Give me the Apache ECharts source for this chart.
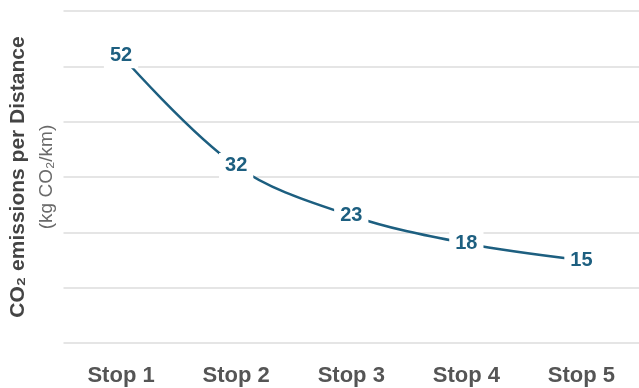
<!DOCTYPE html>
<html>
<head>
<meta charset="utf-8">
<script src="https://cdn.jsdelivr.net/npm/echarts@6/dist/echarts.min.js"></script>
<style>
  html, body { margin: 0; padding: 0; background: #fff; }
  #chart { width: 639px; height: 388px; }
</style>
</head>
<body>
<div id="chart"></div>
<script>
// data
var stops = ['Stop 1', 'Stop 2', 'Stop 3', 'Stop 4', 'Stop 5'];
var emissions = [52, 32, 23, 18, 15];

var lineColor = '#1d5f80';

var chart = echarts.init(document.getElementById('chart'));

var option = {
  animation: false,
  grid: {
    left: 61,
    top: 11,
    width: 582,
    bottom: 45
  },
  xAxis: {
    type: 'category',
    data: stops,
    boundaryGap: true,
    axisLine: { show: false },
    axisTick: { show: false },
    axisLabel: {
      margin: 22,
      fontFamily: 'Liberation Sans',
      fontWeight: 'bold',
      fontSize: 22,
      color: '#555555'
    }
  },
  yAxis: {
    type: 'value',
    min: 0,
    max: 60,
    interval: 10,
    axisLine: { show: false },
    axisTick: { show: false },
    axisLabel: { show: false },
    splitLine: {
      lineStyle: { color: '#dcdcdc', width: 1.5 }
    },
    name: '{a|CO₂ emissions per Distance}\n{b|(kg CO₂/km)}',
    nameLocation: 'middle',
    nameGap: 3,
    nameTextStyle: {
      rich: {
        a: {
          fontFamily: 'Liberation Sans',
          fontWeight: 'bold',
          fontSize: 21,
          color: '#444444',
          lineHeight: 28
        },
        b: {
          fontFamily: 'Liberation Sans',
          fontSize: 19,
          color: '#6a6a6a',
          lineHeight: 28
        }
      }
    }
  },
  series: [{
    type: 'line',
    data: emissions,
    smooth: 0.35,
    symbol: 'circle',
    symbolSize: 1,
    itemStyle: { color: 'transparent' },
    lineStyle: { color: lineColor, width: 2.5 },
    label: {
      show: true,
      position: 'inside',
      fontFamily: 'Liberation Sans',
      fontWeight: 'bold',
      fontSize: 20,
      color: lineColor,
      backgroundColor: '#ffffff',
      padding: [3, 6]
    }
  }]
};

chart.setOption(option);
</script>
</body>
</html>
